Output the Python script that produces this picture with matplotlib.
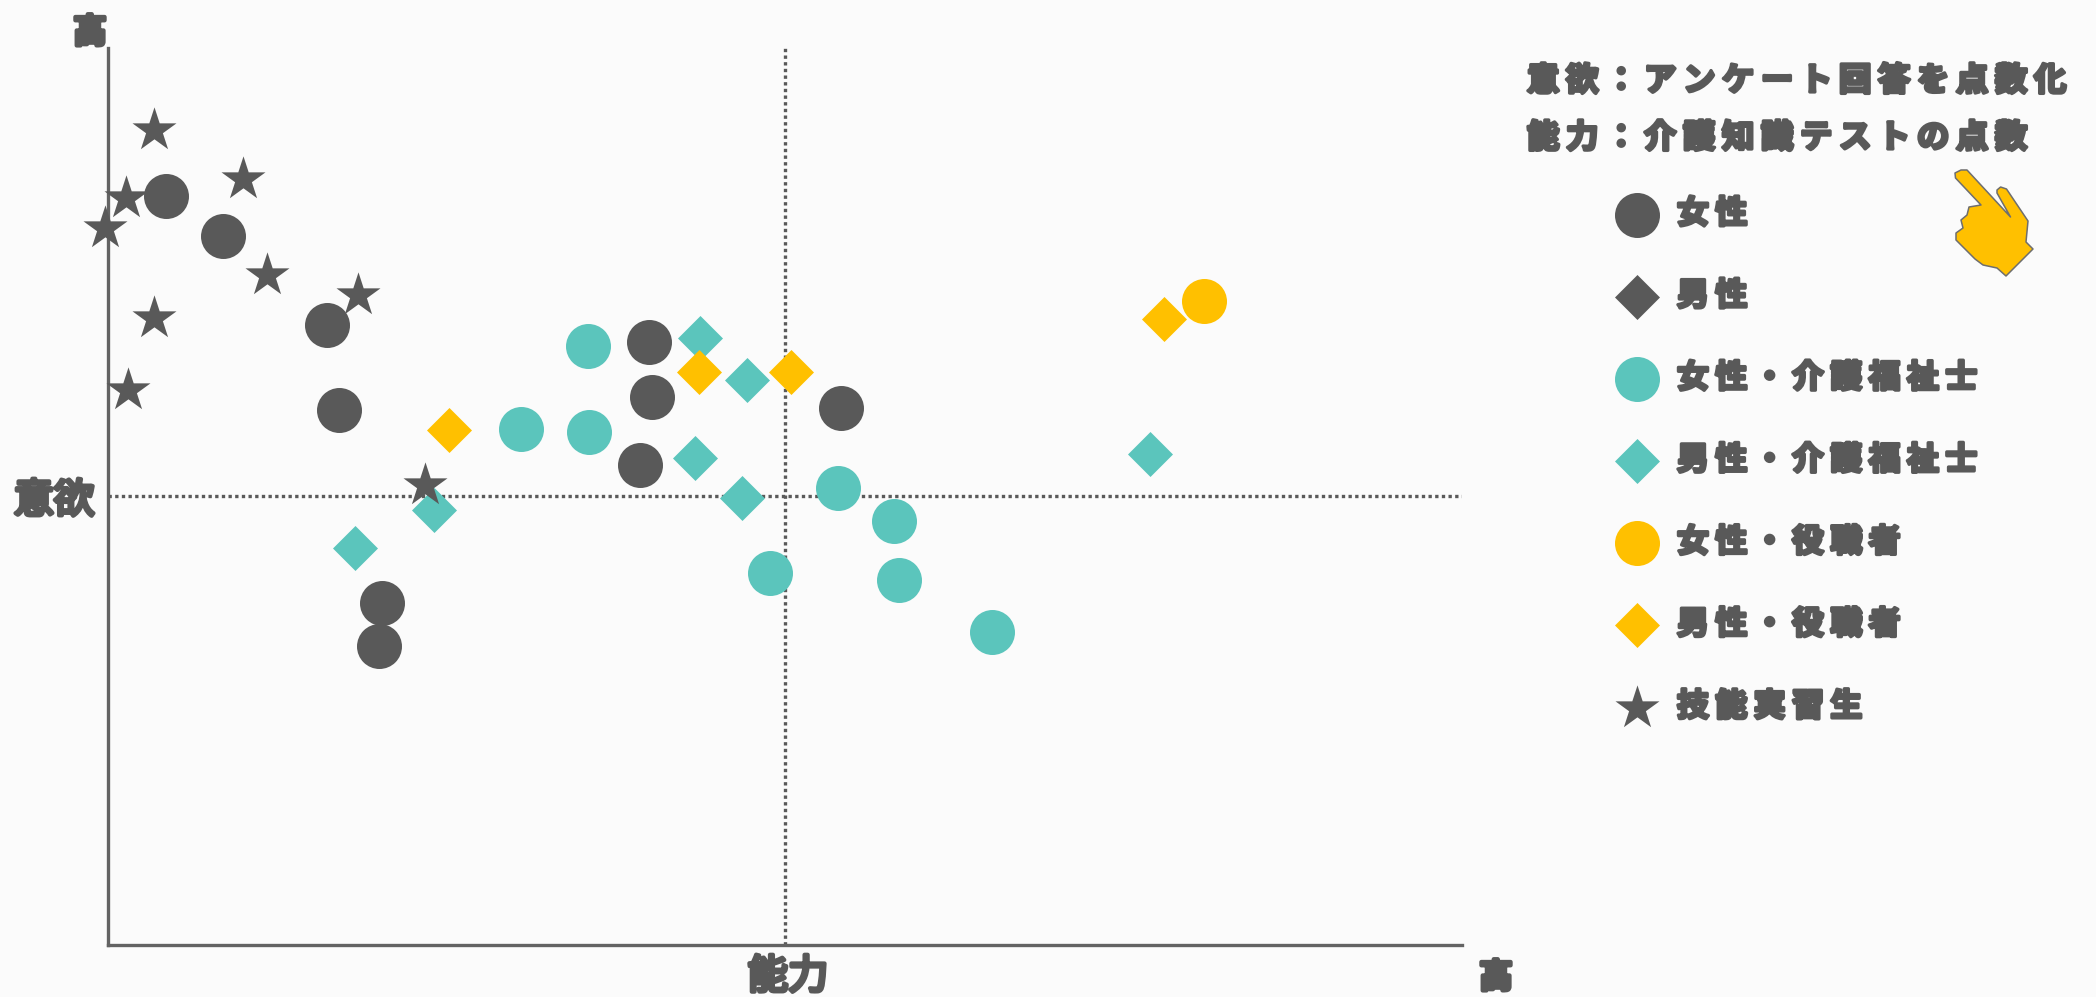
import matplotlib
matplotlib.use("Agg")
import matplotlib.pyplot as plt
import matplotlib.patheffects as pe
from matplotlib.patches import PathPatch
from matplotlib.path import Path
from matplotlib.transforms import Affine2D

plt.rcParams['font.family'] = ['Noto Sans CJK JP', 'DejaVu Sans']
plt.rcParams['font.weight'] = 'bold'

W, H = 2096, 997
BG = '#FBFBFB'
GRAY = '#595959'
TEAL = '#5BC5BC'
ORANGE = '#FFC000'

# values on a 0-100 scale: ability (x), motivation (y)
women_x = [4.29, 8.53, 16.23, 17.12, 20.28, 20.08, 40.01, 40.21, 39.32, 54.12]
women_y = [83.46, 78.99, 69.15, 59.61, 38.15, 33.38, 67.21, 61.10, 53.50, 59.91]
men_x = []
men_y = []
women_cw_x = [35.47, 30.54, 35.57, 53.92, 58.06, 48.89, 58.46, 65.27]
women_cw_y = [66.77, 57.53, 57.23, 50.97, 47.24, 41.43, 40.69, 34.87]
men_cw_x = [43.76, 47.21, 43.36, 46.82, 76.99, 24.12, 18.30]
men_cw_y = [67.66, 63.04, 54.25, 49.78, 54.69, 48.44, 44.26]
women_mgr_x = [80.96]
women_mgr_y = [71.83]
men_mgr_x = [25.21, 43.66, 50.47, 78.00]
men_mgr_y = [57.38, 63.93, 63.93, 69.75]
trainee_x = [3.40, 1.33, -0.15, 10.01, 11.79, 18.50, 3.40, 1.53, 23.43]
trainee_y = [90.91, 83.31, 79.88, 85.39, 74.66, 72.43, 69.90, 61.85, 51.27]

mid_x = 50
mid_y = 50

labels = ['女性', '男性', '女性・介護福祉士', '男性・介護福祉士',
          '女性・役職者', '男性・役職者', '技能実習生']
note_lines = ['意欲：アンケート回答を点数化', '能力：介護知識テストの点数']

SEP = '\u2009'


def spaced(s):
    return SEP.join(s)


def bold(lw=2.4):
    return [pe.withStroke(linewidth=lw, foreground=GRAY, capstyle='round', joinstyle='round')]


fig = plt.figure(figsize=(W / 100, H / 100), dpi=100, facecolor=BG)
ax = fig.add_axes([107.5 / W, 1 - 945 / H, 1354.5 / W, 897 / H], facecolor=BG)
ax.set_xlim(0, 100)
ax.set_ylim(0, 100)
for s in ['top', 'right']:
    ax.spines[s].set_visible(False)
for s in ['left', 'bottom']:
    ax.spines[s].set_color('#636363')
    ax.spines[s].set_linewidth(2.4)
ax.set_xticks([])
ax.set_yticks([])

ax.axhline(mid_y, color=GRAY, lw=2.4, ls=(0, (1, 1)), zorder=1)
ax.axvline(mid_x, color=GRAY, lw=2.4, ls=(0, (1, 1)), zorder=1)

series = [
    (women_x, women_y, GRAY, 'o', 1050),
    (men_x, men_y, GRAY, 'D', 525),
    (women_cw_x, women_cw_y, TEAL, 'o', 1050),
    (men_cw_x, men_cw_y, TEAL, 'D', 525),
    (women_mgr_x, women_mgr_y, ORANGE, 'o', 1050),
    (men_mgr_x, men_mgr_y, ORANGE, 'D', 525),
    (trainee_x, trainee_y, GRAY, '*', 1110),
]
handles = []
for (xs, ys, c, m, s), lab in zip(series, labels):
    handles.append(ax.scatter(xs, ys, c=c, marker=m, s=s, linewidths=0,
                              clip_on=False, zorder=3, label=spaced(lab)))

leg = fig.legend(handles=handles, loc='upper left',
                 bbox_to_anchor=(1616 / W, 1 - 198 / H), frameon=False,
                 fontsize=23, labelcolor=GRAY, scatterpoints=1,
                 borderpad=0, borderaxespad=0, labelspacing=1.57,
                 handlelength=1.31, handletextpad=0.6)
for t in leg.get_texts():
    t.set_path_effects(bold())

ax.set_xlabel('能力', fontsize=29, color=GRAY, path_effects=bold(3.0))
ax.xaxis.set_label_coords((788 - 107.5) / 1354.5, -(977 - 945) / 897)
ax.xaxis.label.set_va('center')
ax.set_ylabel('意欲', fontsize=29, color=GRAY, rotation=0, path_effects=bold(3.0))
ax.yaxis.set_label_coords((54 - 107.5) / 1354.5, (945 - 501) / 897)
ax.yaxis.label.set_va('center')
ax.yaxis.label.set_ha('center')

fig.text(90 / W, 1 - 33 / H, '高', fontsize=24, color=GRAY, ha='center', va='center', path_effects=bold(3.0))
fig.text(1496 / W, 1 - 978 / H, '高', fontsize=24, color=GRAY, ha='center', va='center', path_effects=bold(3.0))

for line, yp in zip(note_lines, [81, 138]):
    fig.text(1527 / W, 1 - yp / H, spaced(line), fontsize=23.4, color=GRAY,
             ha='left', va='center', path_effects=bold())

# pointing hand icon, outline given in reference pixels
hand = [(1967, 170), (2010.5, 217), (1997, 193), (1997, 190), (2000.6, 187),
        (2006.5, 189), (2028, 221), (2026, 242), (2033, 249), (2006, 276), (1997, 268),
        (1983, 265), (1975, 259), (1956, 240), (1956, 233), (1963, 228), (1961, 220),
        (1967, 215), (1969, 207), (1981, 205), (1955.5, 178), (1955, 173), (1961, 170)]
verts = hand + [hand[0]]
codes = [Path.MOVETO] + [Path.LINETO] * (len(verts) - 2) + [Path.CLOSEPOLY]
tr = Affine2D().scale(1 / W, -1 / H).translate(0, 1) + fig.transFigure
fig.add_artist(PathPatch(Path(verts, codes), facecolor=ORANGE, edgecolor='#6E6E6E', lw=1.1,
                         joinstyle='round', transform=tr))

fig.savefig('out.png', dpi=100, facecolor=BG)
